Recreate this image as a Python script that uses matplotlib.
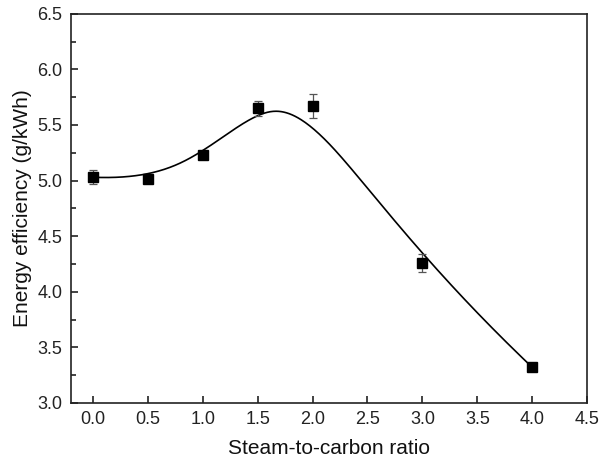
import numpy as np
import matplotlib
matplotlib.use("Agg")
import matplotlib.pyplot as plt
from matplotlib.ticker import MultipleLocator

plt.rcParams["font.family"] = ["Liberation Sans", "DejaVu Sans"]

# steam-to-carbon ratio vs. energy efficiency
ratio = [0.0, 0.5, 1.0, 1.5, 2.0, 3.0, 4.0]
efficiency = [5.03, 5.01, 5.23, 5.65, 5.67, 4.26, 3.32]
err = [0.065, 0.02, 0.03, 0.065, 0.11, 0.08, 0.01]


def bspline(px, py, degree=3, num=400):
    """Clamped uniform B-spline using the data points as control points."""
    px = np.asarray(px, float)
    py = np.asarray(py, float)
    n = len(px)
    inner = np.arange(1, n - degree)
    knots = np.concatenate([np.zeros(degree + 1), inner, np.full(degree + 1, n - degree)])
    t = np.linspace(0, n - degree, num)
    t[-1] -= 1e-9

    def basis(i, k, t):
        if k == 0:
            return ((knots[i] <= t) & (t < knots[i + 1])).astype(float)
        out = np.zeros_like(t)
        d1 = knots[i + k] - knots[i]
        d2 = knots[i + k + 1] - knots[i + 1]
        if d1 > 0:
            out += (t - knots[i]) / d1 * basis(i, k - 1, t)
        if d2 > 0:
            out += (knots[i + k + 1] - t) / d2 * basis(i + 1, k - 1, t)
        return out

    B = np.array([basis(i, degree, t) for i in range(n)])
    return B.T @ px, B.T @ py


fig = plt.figure(figsize=(6.01, 4.61), dpi=100)
ax = fig.add_axes([0.118, 0.126, 0.859, 0.844])

cx, cy = bspline(ratio, efficiency)
ax.plot(cx, cy, color="black", lw=1.2, zorder=2)
ax.errorbar(ratio, efficiency, yerr=err, fmt="s", color="black", ms=7,
            ecolor="#555555", elinewidth=0.9, capsize=3, capthick=0.9, zorder=3)

ax.set_xlim(-0.2, 4.5)
ax.set_ylim(3.0, 6.5)
ax.xaxis.set_major_locator(MultipleLocator(0.5))
ax.yaxis.set_major_locator(MultipleLocator(0.5))
ax.yaxis.set_minor_locator(MultipleLocator(0.25))
ax.tick_params(which="both", direction="in", top=False, right=False,
               labelsize=13, colors="#222222", width=1.2)
ax.tick_params(which="major", length=5, pad=6)
ax.tick_params(which="minor", length=3.5)
for s in ax.spines.values():
    s.set_linewidth(1.2)
    s.set_color("#222222")

ax.set_xlabel("Steam-to-carbon ratio", fontsize=15, color="#111111", labelpad=8)
ax.set_ylabel("Energy efficiency (g/kWh)", fontsize=15, color="#111111", labelpad=4)

fig.savefig("out.png", dpi=100)
